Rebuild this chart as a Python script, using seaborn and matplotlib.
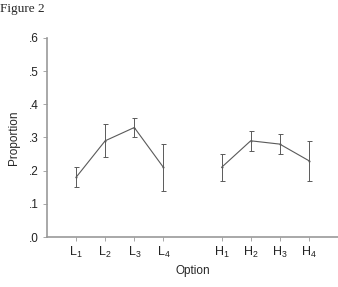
import pandas as pd
import matplotlib.pyplot as plt
import seaborn as sns

# values
options = ['L1', 'L2', 'L3', 'L4', 'H1', 'H2', 'H3', 'H4']
groups = ['L', 'L', 'L', 'L', 'H', 'H', 'H', 'H']
positions = [1, 2, 3, 4, 6, 7, 8, 9]
proportion = [0.18, 0.29, 0.33, 0.21, 0.21, 0.29, 0.28, 0.23]
err_low = [0.15, 0.24, 0.30, 0.14, 0.17, 0.26, 0.25, 0.17]
err_high = [0.21, 0.34, 0.36, 0.28, 0.25, 0.32, 0.31, 0.29]
tick_labels = ['L$_1$', 'L$_2$', 'L$_3$', 'L$_4$', 'H$_1$', 'H$_2$', 'H$_3$', 'H$_4$']

df = pd.DataFrame({'option': options, 'group': groups, 'pos': positions,
                   'prop': proportion, 'lo': err_low, 'hi': err_high})

sns.set_style('white')
plt.rcParams['font.family'] = ['Liberation Sans', 'DejaVu Sans']
plt.rcParams['mathtext.fontset'] = 'custom'
plt.rcParams['mathtext.rm'] = 'Liberation Sans'
plt.rcParams['mathtext.it'] = 'Liberation Sans'

fig = plt.figure(figsize=(3.38, 2.87), dpi=100)
ax = fig.add_axes([0.139, 0.174, 0.861, 0.694])

line_col = '#5a5a5a'
sns.lineplot(data=df, x='pos', y='prop', hue='group', palette=[line_col, line_col],
             legend=False, linewidth=0.8, ax=ax, marker='o', markersize=1.5,
             markeredgewidth=0)
ax.errorbar(df['pos'], df['prop'],
            yerr=[df['prop'] - df['lo'], df['hi'] - df['prop']],
            fmt='none', ecolor=line_col, elinewidth=0.7, capsize=1.8, capthick=0.7)

ax.set_xlim(0, 10)
ax.set_ylim(0, 0.6)
ax.set_xticks(positions)
ax.set_xticklabels(tick_labels, fontsize=9)
ax.set_yticks([0, 0.1, 0.2, 0.3, 0.4, 0.5, 0.6])
ax.set_yticklabels(['.0', '.1', '.2', '.3', '.4', '.5', '.6'], fontsize=8.5)
ax.set_xlabel('Option', fontsize=8.5, labelpad=3)
ax.set_ylabel('Proportion', fontsize=8.5, labelpad=6)

sns.despine(ax=ax)
for s in ['left', 'bottom']:
    ax.spines[s].set_color('#999999')
    ax.spines[s].set_linewidth(1.2)
ax.tick_params(axis='both', which='both', direction='out', length=3, width=0.6,
               color='#999999', labelcolor='#222222', left=True, bottom=True, pad=3)

fig.text(0.0, 0.99, 'Figure 2', fontsize=9.5, family='Liberation Serif', va='top', ha='left')

fig.savefig('out.png', dpi=100)
